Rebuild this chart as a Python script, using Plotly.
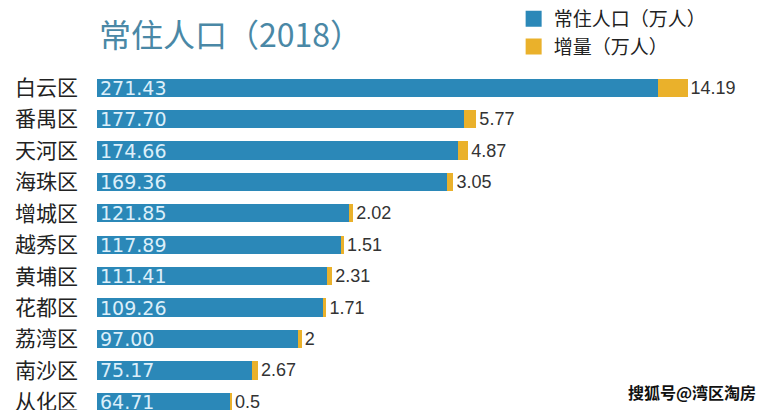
import plotly.graph_objects as go

districts = ["白云区", "番禺区", "天河区", "海珠区", "增城区", "越秀区",
             "黄埔区", "花都区", "荔湾区", "南沙区", "从化区"]
population = [271.43, 177.70, 174.66, 169.36, 121.85, 117.89,
              111.41, 109.26, 97.00, 75.17, 64.71]
increase = [14.19, 5.77, 4.87, 3.05, 2.02, 1.51, 2.31, 1.71, 2, 2.67, 0.5]
pop_labels = ["271.43", "177.70", "174.66", "169.36", "121.85", "117.89",
              "111.41", "109.26", "97.00", "75.17", "64.71"]
inc_labels = ["14.19", "5.77", "4.87", "3.05", "2.02", "1.51",
              "2.31", "1.71", "2", "2.67", "0.5"]

BLUE = "#2b88b8"
GOLD = "#eab12b"

fig = go.Figure()
fig.add_trace(go.Bar(
    y=districts, x=population, orientation="h", name="常住人口（万人）",
    marker=dict(color=BLUE, line=dict(width=0)),
    text=pop_labels, textposition="inside", insidetextanchor="start",
    textfont=dict(family="DejaVu Sans", size=19, color="#dcefFa"),
    constraintext="none", showlegend=False, hoverinfo="skip",
))
fig.add_trace(go.Bar(
    y=districts, x=increase, orientation="h", name="增量（万人）",
    marker=dict(color=GOLD, line=dict(width=0)),
    text=inc_labels, textposition="outside",
    textfont=dict(family="Liberation Sans, Arial", size=18, color="#333333"),
    constraintext="none", cliponaxis=False, showlegend=False, hoverinfo="skip",
))
# legend entries
fig.add_trace(go.Scatter(x=[None], y=[None], mode="markers", name="常住人口（万人）",
                         marker=dict(symbol="square", size=16, color=BLUE)))
fig.add_trace(go.Scatter(x=[None], y=[None], mode="markers", name="增量（万人）",
                         marker=dict(symbol="square", size=16, color=GOLD)))

fig.update_layout(
    width=769, height=410,
    margin=dict(l=97, r=0, t=72, b=0, autoexpand=False),
    paper_bgcolor="white", plot_bgcolor="white",
    barmode="stack", bargap=0.42,
    font=dict(family="Noto Sans CJK SC", color="#222222"),
    xaxis=dict(range=[0, 325], visible=False, showgrid=False, zeroline=False),
    yaxis=dict(categoryorder="array", categoryarray=districts,
               range=[10.26, -0.5], showgrid=False, zeroline=False,
               showline=False, ticks="", ticklabelstandoff=18, automargin=False,
               tickfont=dict(family="Noto Sans CJK SC", size=21, color="#222222")),
    legend=dict(x=0.62, y=1.213, xref="paper", yref="paper",
                xanchor="left", yanchor="top", traceorder="normal",
                font=dict(family="Noto Sans CJK SC", size=19, color="#222222"),
                itemsizing="trace", tracegroupgap=0, bgcolor="rgba(0,0,0,0)"),
    annotations=[
        dict(text="常住人口（2018）", xref="paper", yref="paper", x=0.0, y=1.0,
             yshift=39, xanchor="left", yanchor="middle", showarrow=False,
             font=dict(family="Noto Sans CJK SC", size=32, color="#4a88a6")),
        dict(text="<b>搜狐号@湾区淘房</b>", xref="paper", yref="paper", x=1.0, y=0.0,
             xshift=-11, yshift=18, xanchor="right", yanchor="middle", showarrow=False,
             font=dict(family="Noto Sans CJK SC", size=16, color="#111111")),
    ],
)

fig.write_html("out.html", config={"displayModeBar": False},
               post_script="document.body.style.margin='0';")
